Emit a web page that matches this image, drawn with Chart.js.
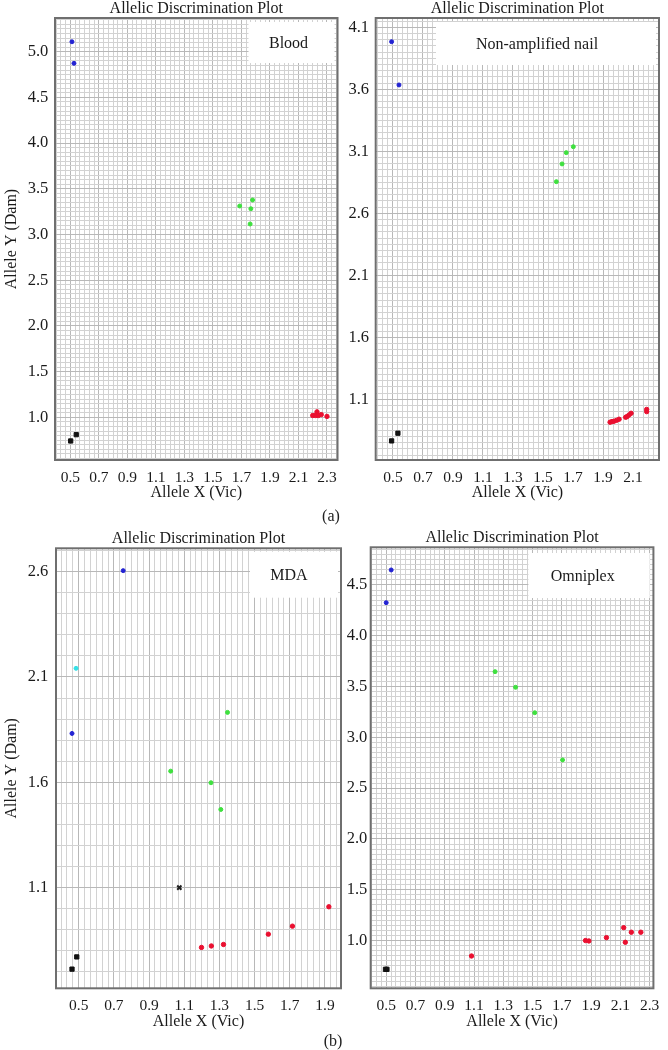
<!DOCTYPE html>
<html><head><meta charset="utf-8">
<script src="https://cdn.jsdelivr.net/npm/chart.js@4.4.1/dist/chart.umd.min.js"></script>
<style>
html,body{margin:0;padding:0;background:#fff;}
#wrap{position:relative;width:668px;height:1050px;overflow:hidden;}
canvas{position:absolute;}
.cap{position:absolute;font:16px "Liberation Serif",serif;color:#222;transform:translate(-50%,-50%);white-space:nowrap;}
</style></head><body>
<div id="wrap">
<canvas id="c1" style="left:0;top:0" width="345" height="505"></canvas>
<canvas id="c2" style="left:345px;top:0" width="323" height="505"></canvas>
<canvas id="c3" style="left:0;top:520px" width="346" height="515"></canvas>
<canvas id="c4" style="left:344px;top:520px" width="324" height="515"></canvas>
<div class="cap" style="left:331px;top:516px">(a)</div>
<div class="cap" style="left:333px;top:1041px">(b)</div>
</div>
<script>
// ---------- shared text ----------
const plotTitle = 'Allelic Discrimination Plot';
const xAxisTitle = 'Allele X (Vic)';
const yAxisTitle = 'Allele Y (Dam)';

// ---------- Blood ----------
const bloodXLabels = ['0.5','0.7','0.9','1.1','1.3','1.5','1.7','1.9','2.1','2.3'];
const bloodYLabels = ['1.0','1.5','2.0','2.5','3.0','3.5','4.0','4.5','5.0'];
const bloodBlue  = [{x:0.511,y:5.109},{x:0.525,y:4.873}];
const bloodGreen = [{x:1.688,y:3.312},{x:1.778,y:3.378},{x:1.766,y:3.282},{x:1.761,y:3.115}];
const bloodRed   = [{x:2.20,y:1.02},{x:2.22,y:1.02},{x:2.23,y:1.03},{x:2.23,y:1.06},{x:2.24,y:1.02},{x:2.26,y:1.03},{x:2.30,y:1.01}];
const bloodBlack = [{x:0.502,y:0.741},{x:0.541,y:0.810}];

// ---------- Non-amplified nail ----------
const nailXLabels = ['0.5','0.7','0.9','1.1','1.3','1.5','1.7','1.9','2.1'];
const nailYLabels = ['1.1','1.6','2.1','2.6','3.1','3.6','4.1'];
const nailBlue  = [{x:0.491,y:3.984},{x:0.540,y:3.635}];
const nailGreen = [{x:1.589,y:2.855},{x:1.627,y:2.998},{x:1.655,y:3.089},{x:1.702,y:3.137}];
const nailRed   = [{x:1.947,y:0.915},{x:1.96,y:0.92},{x:1.973,y:0.923},{x:1.99,y:0.93},{x:2.007,y:0.939},{x:2.051,y:0.955},{x:2.06,y:0.96},{x:2.073,y:0.973},{x:2.087,y:0.987},{x:2.191,y:1.000},{x:2.191,y:1.018}];
const nailBlack = [{x:0.491,y:0.764},{x:0.533,y:0.826}];

// ---------- MDA ----------
const mdaXLabels = ['0.5','0.7','0.9','1.1','1.3','1.5','1.7','1.9'];
const mdaYLabels = ['1.1','1.6','2.1','2.6'];
const mdaBlue  = [{x:0.753,y:2.605},{x:0.462,y:1.832}];
const mdaCyan  = [{x:0.485,y:2.141}];
const mdaGreen = [{x:1.346,y:1.932},{x:1.023,y:1.653},{x:1.252,y:1.598},{x:1.308,y:1.471}];
const mdaUndet = [{x:1.072,y:1.100}];
const mdaRed   = [{x:1.198,y:0.816},{x:1.254,y:0.823},{x:1.323,y:0.830},{x:1.578,y:0.879},{x:1.715,y:0.917},{x:1.922,y:1.009}];
const mdaBlack = [{x:0.462,y:0.713},{x:0.489,y:0.771}];

// ---------- Omniplex ----------
const omniXLabels = ['0.5','0.7','0.9','1.1','1.3','1.5','1.7','1.9','2.1','2.3'];
const omniYLabels = ['1.0','1.5','2.0','2.5','3.0','3.5','4.0','4.5'];
const omniBlue  = [{x:0.534,y:4.648},{x:0.500,y:4.326}];
const omniGreen = [{x:1.244,y:3.647},{x:1.384,y:3.493},{x:1.515,y:3.243},{x:1.705,y:2.778}];
const omniRed   = [{x:1.083,y:0.848},{x:1.862,y:1.000},{x:1.885,y:0.996},{x:2.005,y:1.029},{x:2.123,y:1.127},{x:2.134,y:0.983},{x:2.175,y:1.082},{x:2.240,y:1.082}];
const omniBlack = [{x:0.495,y:0.717},{x:0.505,y:0.717}];

const SERIF = '"Liberation Serif", "Times New Roman", serif';

function gridValues(min, max, anchor, step){
  const out = [];
  const k0 = Math.ceil((min - anchor)/step - 1e-9), k1 = Math.floor((max - anchor)/step + 1e-9);
  for (let k = k0; k <= k1; k++) out.push({value: Math.round((anchor + k*step)*1e6)/1e6});
  return out;
}
function labelFor(labels, v){
  for (const l of labels) if (Math.abs(parseFloat(l) - v) < 1e-6) return l;
  return '';
}

const decor = {
  id: 'decor',
  beforeDatasetsDraw(chart, args, o){
    const {ctx, chartArea:a} = chart;
    ctx.save();
    const bx = a.right - o.boxRight - o.boxW, by = a.top + o.boxTop;
    ctx.fillStyle = '#fff';
    ctx.fillRect(bx, by, o.boxW, o.boxH);
    ctx.fillStyle = '#1a1a1a';
    ctx.font = '16px ' + SERIF;
    ctx.textAlign = 'center'; ctx.textBaseline = 'middle';
    ctx.fillText(o.text, bx + o.textX, by + o.boxH/2 + 1);
    ctx.restore();
  },
  afterDraw(chart){
    const {ctx, chartArea:a} = chart;
    ctx.save();
    ctx.strokeStyle = '#6f6f6f'; ctx.lineWidth = 2;
    ctx.strokeRect(a.left, a.top, a.right - a.left, a.bottom - a.top);
    ctx.restore();
  }
};

function makeChart(id, s){
  const ds = (data, color, style, r, bw) => ({data, pointStyle: style, pointRadius: r, pointHoverRadius: r,
      backgroundColor: color, borderColor: color, pointBorderWidth: bw || 1, showLine:false});
  const datasets = [];
  if (s.blue)  datasets.push(ds(s.blue,  '#2323d2', 'circle', 2));
  if (s.cyan)  datasets.push(ds(s.cyan,  '#35e0e6', 'circle', 2));
  if (s.green) datasets.push(ds(s.green, '#3fe03f', 'circle', 2));
  if (s.red)   datasets.push(ds(s.red,   '#ea1030', 'circle', 2.2));
  if (s.black) datasets.push(ds(s.black, '#111111', 'rect', 3));
  if (s.undet) datasets.push(ds(s.undet, '#222222', 'crossRot', 3, 2));
  const W = s.canvasW, H = s.canvasH;
  return new Chart(document.getElementById(id), {
    type: 'scatter',
    data: {datasets},
    plugins: [decor],
    options: {
      responsive:false, animation:false, devicePixelRatio:1,
      layout: {padding: {top: s.padTop, right: s.padRight, left: 0, bottom: 0}},
      plugins: {
        legend:{display:false}, tooltip:{enabled:false},
        title: {display:true, text: plotTitle, fullSize:false, color:'#1a1a1a',
          font:{family:SERIF, size:16, weight:'normal', lineHeight:1.1}, padding:{top:0,bottom:0.4}},
        decor: s.box
      },
      scales: {
        x: {
          type:'linear', min:s.xMin, max:s.xMax,
          afterBuildTicks: sc => { sc.ticks = gridValues(s.xMin, s.xMax, 0.5, 0.2/6); },
          afterFit: sc => { sc.height = H - s.bottom; },
          ticks: {autoSkip:false, maxRotation:0, minRotation:0, padding:8.5, color:'#1a1a1a',
            font:{family:SERIF, size:15.5}, callback: v => labelFor(s.xLabels, v)},
          grid: {drawTicks:false, lineWidth:1,
            color: c => labelFor(s.xLabels, c.tick.value) ? '#b8b8b8' : '#d2d2d2'},
          border: {display:false},
          title: {display:true, text:xAxisTitle, color:'#1a1a1a', font:{family:SERIF, size:16, lineHeight:1.2},
            padding:{top:0, bottom:s.xTitlePad}}
        },
        y: {
          type:'linear', min:s.yMin, max:s.yMax,
          afterBuildTicks: sc => { sc.ticks = gridValues(s.yMin, s.yMax, parseFloat(s.yLabels[0]), s.yStep); },
          afterFit: sc => { sc.width = s.left; },
          ticks: {autoSkip:false, padding:s.yTickPad, color:'#1a1a1a',
            font:{family:SERIF, size:16.5}, callback: v => labelFor(s.yLabels, v)},
          grid: {drawTicks:false, lineWidth:1,
            color: c => labelFor(s.yLabels, c.tick.value) ? '#b8b8b8' : '#d2d2d2'},
          border: {display:false},
          title: {display: !!s.yTitle, text:yAxisTitle, color:'#1a1a1a', font:{family:SERIF, size:16, lineHeight:1.2},
            padding:{top:2.4, bottom:0}}
        }
      }
    }
  });
}

makeChart('c1', {canvasW:345, canvasH:505, padTop:0, padRight:3, left:55, bottom:460, xTitlePad:2.4,
  xMin:0.392, xMax:2.374, yMin:0.533, yMax:5.369, yStep:0.05, yTickPad:6.7, yTitle:true,
  xLabels:bloodXLabels, yLabels:bloodYLabels,
  blue:bloodBlue, green:bloodGreen, red:bloodRed, black:bloodBlack,
  box:{boxRight:3, boxTop:4, boxW:86, boxH:41, textX:40, text:'Blood'}});

makeChart('c2', {canvasW:323, canvasH:505, padTop:0, padRight:9, left:30.7, bottom:460, xTitlePad:2.4,
  xMin:0.385, xMax:2.273, yMin:0.61, yMax:4.175, yStep:0.05, yTickPad:6.7, yTitle:false,
  xLabels:nailXLabels, yLabels:nailYLabels,
  blue:nailBlue, green:nailGreen, red:nailRed, black:nailBlack,
  box:{boxRight:3, boxTop:4, boxW:220, boxH:43, textX:101, text:'Non-amplified nail'}});

makeChart('c3', {canvasW:346, canvasH:515, padTop:10.3, padRight:2, left:56, bottom:468.3, xTitlePad:3.7,
  xMin:0.371, xMax:1.991, yMin:0.622, yMax:2.711, yStep:0.1, yTickPad:7.7, yTitle:true,
  xLabels:mdaXLabels, yLabels:mdaYLabels,
  blue:mdaBlue, cyan:mdaCyan, green:mdaGreen, red:mdaRed, black:mdaBlack, undet:mdaUndet,
  box:{boxRight:3, boxTop:3.4, boxW:88, boxH:46, textX:39, text:'MDA'}});

makeChart('c4', {canvasW:324, canvasH:515, padTop:9.3, padRight:12.3, left:26.7, bottom:468.3, xTitlePad:3.7,
  xMin:0.394, xMax:2.326, yMin:0.530, yMax:4.871, yStep:0.05, yTickPad:3.4, yTitle:false,
  xLabels:omniXLabels, yLabels:omniYLabels,
  blue:omniBlue, green:omniGreen, red:omniRed, black:omniBlack,
  box:{boxRight:3.7, boxTop:5.7, boxW:121.3, boxH:45, textX:54.3, text:'Omniplex'}});
</script>
</body></html>
